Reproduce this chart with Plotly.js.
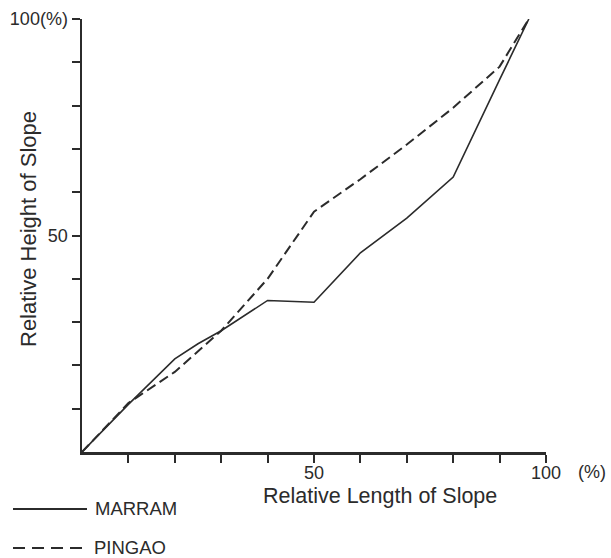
<!DOCTYPE html>
<html>
<head>
<meta charset="utf-8">
<script src="https://cdn.plot.ly/plotly-3.0.1.min.js"></script>
<style>html,body{margin:0;padding:0;background:#fff;}#chart{width:611px;height:558px;}</style>
</head>
<body>
<div id="chart"></div>
<script>
// Relative length of slope (%)
const marramX = [0, 10, 20, 25, 30, 40, 50, 60, 70, 80, 90, 96.3];
const marramY = [0, 11, 21.5, 25, 28, 35, 34.6, 46, 54, 63.5, 86, 100];
const pingaoX = [0, 10, 20, 30, 40, 50, 60, 70, 80, 90, 96.3];
const pingaoY = [0, 11.3, 18.5, 28, 40, 55.5, 63, 71, 79.5, 89, 100];
const xTickVals = [10, 20, 30, 40, 50, 60, 70, 80, 90, 100];
const xTickText = ['', '', '', '', '50', '', '', '', '', '100'];
const yTickVals = [10, 20, 30, 40, 50, 60, 70, 80, 90, 100];
const yTickText = ['', '', '', '', '50', '', '', '', '', '100(%)'];
const seriesNames = ['MARRAM', 'PINGAO'];

const ink = '#2b2b2b';
const font = 'Liberation Sans, Arial, sans-serif';

const traces = [
  {x: marramX, y: marramY, name: seriesNames[0], mode: 'lines', line: {color: ink, width: 1.6}},
  {x: pingaoX, y: pingaoY, name: seriesNames[1], mode: 'lines', line: {color: ink, width: 2, dash: '10px,5px'}}
];

const W = 611, H = 558, L = 82, R = 65, T = 19, B = 106;
const pw = W - L - R, ph = H - T - B;
const px = v => (v - L) / pw;
const py = v => (H - B - v) / ph;

const layout = {
  width: W, height: H,
  margin: {l: L, r: R, t: T, b: B, pad: 0},
  paper_bgcolor: '#fff', plot_bgcolor: '#fff',
  showlegend: false,
  font: {family: font, color: ink, size: 18},
  xaxis: {
    range: [0, 100], tickvals: xTickVals, ticktext: xTickText,
    ticks: 'outside', ticklen: 8, tickwidth: 2, tickcolor: ink,
    showline: true, linewidth: 2.5, linecolor: ink, showgrid: false, zeroline: false,
    ticklabelstandoff: -5,
    tickfont: {size: 18, family: font, color: ink}
  },
  yaxis: {
    range: [0, 100], tickvals: yTickVals, ticktext: yTickText,
    ticks: 'outside', ticklen: 8, tickwidth: 2, tickcolor: ink,
    showline: true, linewidth: 2.5, linecolor: ink, showgrid: false, zeroline: false,
    tickfont: {size: 18, family: font, color: ink}
  },
  shapes: [
    {type: 'line', xref: 'paper', yref: 'paper', x0: px(13), x1: px(87), y0: py(509), y1: py(509), line: {color: ink, width: 2}},
    {type: 'line', xref: 'paper', yref: 'paper', x0: px(13), x1: px(88), y0: py(548), y1: py(548), line: {color: ink, width: 2.2, dash: '12px,7px'}}
  ],
  annotations: [
    {xref: 'paper', yref: 'paper', x: px(28), y: py(229), text: 'Relative Height of Slope', textangle: -90, showarrow: false, xanchor: 'center', yanchor: 'middle', font: {size: 22, family: font, color: ink}},
    {xref: 'paper', yref: 'paper', x: px(380), y: py(496), text: 'Relative Length of Slope', showarrow: false, xanchor: 'center', yanchor: 'middle', font: {size: 21.5, family: font, color: ink}},
    {xref: 'paper', yref: 'paper', x: px(592), y: py(472), text: '(%)', showarrow: false, xanchor: 'center', yanchor: 'middle', font: {size: 18, family: font, color: ink}},
    {xref: 'paper', yref: 'paper', x: px(93), y: py(508), text: seriesNames[0], showarrow: false, xanchor: 'left', yanchor: 'middle', font: {size: 18.5, family: font, color: ink}},
    {xref: 'paper', yref: 'paper', x: px(92), y: py(547), text: seriesNames[1], showarrow: false, xanchor: 'left', yanchor: 'middle', font: {size: 18.5, family: font, color: ink}}
  ]
};

Plotly.newPlot('chart', traces, layout, {displayModeBar: false, staticPlot: true});
</script>
</body>
</html>
